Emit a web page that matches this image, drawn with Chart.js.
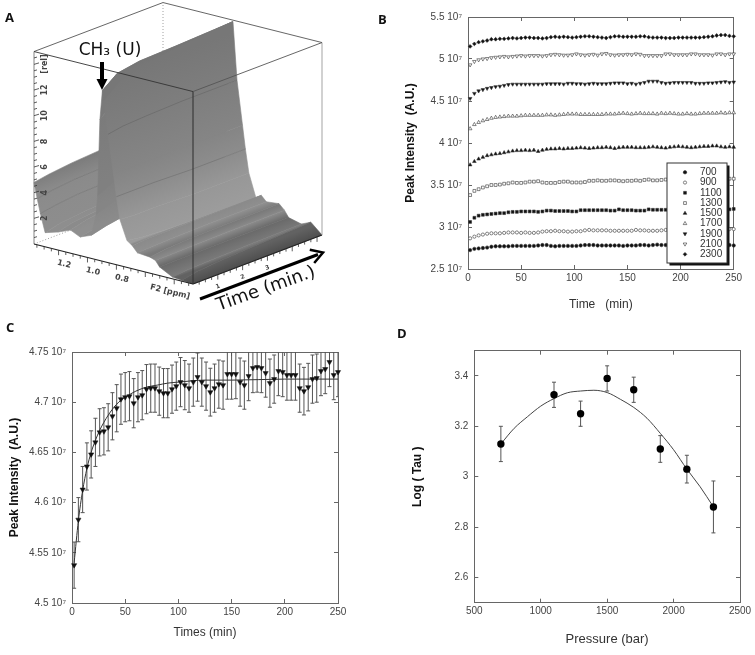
<!DOCTYPE html>
<html>
<head>
<meta charset="utf-8">
<title>Peak intensity under pressure</title>
<script src="https://cdn.jsdelivr.net/npm/chart.js@4/dist/chart.umd.min.js"></script>
<style>
  html, body { margin: 0; padding: 0; background: #fff; }
  #page { position: relative; width: 755px; height: 655px; overflow: hidden; }
  canvas { position: absolute; filter: blur(0.35px); }
  .letter { position: absolute; font: bold 13px/14px "Open Sans", sans-serif; color: #111; }
</style>
</head>
<body>
<div id="page">
  <canvas id="panelA" width="375" height="310" style="left:0;top:0"></canvas>
  <canvas id="panelB" width="380" height="325" style="left:375px;top:0"></canvas>
  <canvas id="panelC" width="375" height="335" style="left:0;top:320px"></canvas>
  <canvas id="panelD" width="355" height="335" style="left:400px;top:320px"></canvas>
  <div class="letter" style="left:5px;top:10px">A</div>
  <div class="letter" style="left:378px;top:12px">B</div>
  <div class="letter" style="left:6px;top:320px">C</div>
  <div class="letter" style="left:397px;top:326px">D</div>
</div>
<script>
// Panel A: surface, rel intensity for each F2 position (columns) at each time (rows)
const ppmA = [1.37,1.348,1.326,1.293,1.205,1.117,1.051,0.974,0.941,0.93,0.914,0.897,0.886,0.858,0.82,0.80,0.776,0.727,0.69,0.655,0.567,0.53,0.501,0.413,0.347,0.27];
const timesA = [0, 0.6, 1.5, 3, 5.2];
const relT0 = [4.8,3.6,2.5,1.1,1.4,1.8,1.45,1.8,3.5,5.0,11,13.3,12.5,10,7,5.3,3.6,2.1,1.8,1.34,1.25,1.1,0.67,0.15,0.08,0];
const relT1 = [5.0,3.8,2.7,1.4,1.7,2.1,1.7,2.1,3.9,5.5,12,14.2,13.5,10.2,7,5.3,3.5,1.9,1.9,1.4,1.4,1.1,0.7,0.25,0.3,0];
const relT2 = [5.2,4.0,2.9,1.6,1.9,2.4,2.0,2.4,4.2,6,12.2,14.5,14.1,10.3,7,5.3,3.5,1.8,1.9,1.45,1.5,1.15,0.7,0.3,0.45,0];
const relT3 = [5.4,4.1,3.0,1.8,2.2,2.6,2.2,2.6,4.4,6.2,12.3,14.6,14.5,10.4,7,5.2,3.4,1.7,1.9,1.5,1.55,1.2,0.7,0.4,0.6,0];
const relT4 = [5.6,4.3,3.2,2.0,2.4,2.8,2.4,2.8,4.6,6.5,12.5,14.8,14.9,10.4,7,5.2,3.4,1.6,1.9,1.5,1.6,1.2,0.7,0.45,0.78,0];
const relRows = [relT0, relT1, relT2, relT3, relT4];
const streakColumns = [1, 2, 13, 15];
const relTicks = [2, 4, 6, 8, 10, 12];
const f2Ticks = [1.2, 1.0, 0.8];
const timeTicksA = [1, 2, 3];

// Panel B: peak intensity (x 10^7) against time, one list per pressure
const timesB = [2,6,10,14,18,22,26,30,34,38,42,46,50,54,58,62,66,70,74,78,82,86,90,94,98,102,106,110,114,118,122,126,130,134,138,142,146,150,154,158,162,166,170,174,178,182,186,190,194,198,202,206,210,214,218,222,226,230,234,238,242,246,250];
const p700 = [2.725,2.74,2.745,2.75,2.755,2.765,2.77,2.77,2.77,2.77,
  2.775,2.775,2.775,2.775,2.775,2.775,2.78,2.785,2.785,2.775,
  2.77,2.775,2.775,2.775,2.775,2.775,2.78,2.785,2.785,2.785,
  2.78,2.78,2.78,2.78,2.78,2.78,2.775,2.78,2.78,2.78,
  2.785,2.785,2.78,2.785,2.79,2.785,2.785,2.785,2.785,2.785,
  2.785,2.785,2.79,2.785,2.785,2.785,2.785,2.785,2.79,2.79,
  2.79,2.785,2.78];
const p900 = [2.865,2.885,2.90,2.91,2.92,2.925,2.925,2.925,2.93,2.935,
  2.935,2.935,2.93,2.935,2.93,2.93,2.935,2.945,2.95,2.95,
  2.955,2.95,2.95,2.945,2.945,2.95,2.95,2.96,2.965,2.96,
  2.96,2.96,2.96,2.955,2.955,2.955,2.955,2.955,2.955,2.965,
  2.96,2.96,2.955,2.955,2.955,2.96,2.965,2.965,2.965,2.965,
  2.97,2.97,2.965,2.965,2.97,2.97,2.97,2.975,2.975,2.97,
  2.97,2.975,2.975];
const p1100 = [3.06,3.11,3.135,3.145,3.15,3.155,3.16,3.165,3.165,3.175,
  3.18,3.18,3.185,3.185,3.185,3.185,3.18,3.185,3.195,3.195,
  3.19,3.19,3.19,3.19,3.185,3.185,3.20,3.20,3.20,3.20,
  3.20,3.20,3.20,3.195,3.195,3.21,3.20,3.20,3.20,3.195,
  3.195,3.195,3.21,3.205,3.205,3.205,3.205,3.205,3.205,3.205,
  3.205,3.21,3.205,3.2,3.205,3.205,3.21,3.205,3.205,3.205,
  3.21,3.21,3.215];
const p1300 = [3.38,3.43,3.45,3.47,3.485,3.50,3.50,3.505,3.515,3.52,
  3.53,3.525,3.525,3.53,3.54,3.54,3.545,3.53,3.525,3.525,
  3.525,3.535,3.54,3.54,3.53,3.53,3.53,3.535,3.55,3.55,
  3.555,3.55,3.55,3.555,3.555,3.55,3.545,3.55,3.55,3.555,
  3.55,3.56,3.565,3.555,3.555,3.56,3.565,3.565,3.55,3.55,
  3.55,3.555,3.56,3.56,3.555,3.56,3.55,3.56,3.56,3.565,
  3.57,3.575,3.575];
const p1500 = [3.74,3.78,3.81,3.83,3.85,3.86,3.87,3.875,3.885,3.895,
  3.905,3.91,3.91,3.915,3.91,3.915,3.90,3.915,3.925,3.93,
  3.93,3.935,3.93,3.935,3.935,3.94,3.945,3.94,3.935,3.94,
  3.945,3.945,3.95,3.945,3.935,3.945,3.95,3.95,3.95,3.945,
  3.945,3.945,3.95,3.955,3.95,3.945,3.94,3.95,3.955,3.96,
  3.955,3.95,3.945,3.95,3.955,3.96,3.96,3.965,3.965,3.955,
  3.95,3.955,3.95];
const p1700 = [4.17,4.22,4.245,4.265,4.28,4.295,4.305,4.31,4.315,4.32,
  4.32,4.32,4.325,4.33,4.33,4.33,4.33,4.33,4.335,4.335,
  4.33,4.335,4.34,4.345,4.345,4.345,4.34,4.34,4.34,4.34,
  4.34,4.34,4.345,4.345,4.345,4.35,4.355,4.35,4.345,4.35,
  4.355,4.35,4.35,4.35,4.345,4.355,4.35,4.355,4.35,4.345,
  4.345,4.35,4.345,4.345,4.35,4.355,4.355,4.355,4.355,4.36,
  4.355,4.36,4.36];
const p1900 = [4.53,4.59,4.62,4.635,4.65,4.66,4.67,4.675,4.685,4.695,
  4.70,4.70,4.70,4.70,4.70,4.70,4.70,4.70,4.705,4.705,
  4.705,4.705,4.70,4.71,4.71,4.705,4.705,4.70,4.705,4.71,
  4.705,4.705,4.705,4.71,4.715,4.715,4.715,4.705,4.71,4.70,
  4.71,4.72,4.735,4.735,4.735,4.72,4.71,4.715,4.72,4.72,
  4.72,4.72,4.72,4.71,4.71,4.71,4.715,4.715,4.72,4.725,
  4.73,4.72,4.725];
const p2100 = [4.93,4.97,4.99,5.00,5.005,5.015,5.02,5.025,5.03,5.025,
  5.03,5.035,5.04,5.035,5.04,5.04,5.04,5.035,5.04,5.05,
  5.055,5.05,5.045,5.045,5.05,5.06,5.05,5.045,5.05,5.055,
  5.045,5.06,5.065,5.05,5.045,5.05,5.05,5.055,5.05,5.06,
  5.055,5.04,5.04,5.04,5.04,5.04,5.06,5.06,5.05,5.05,
  5.05,5.05,5.06,5.06,5.05,5.05,5.05,5.045,5.06,5.06,
  5.05,5.06,5.06];
const p2300 = [5.15,5.18,5.20,5.21,5.22,5.235,5.235,5.24,5.24,5.245,
  5.25,5.245,5.25,5.255,5.255,5.25,5.25,5.245,5.25,5.26,
  5.265,5.26,5.265,5.26,5.255,5.26,5.265,5.27,5.27,5.265,
  5.26,5.255,5.25,5.26,5.27,5.27,5.265,5.265,5.265,5.265,
  5.27,5.27,5.26,5.255,5.255,5.255,5.25,5.25,5.25,5.255,
  5.255,5.255,5.255,5.255,5.255,5.26,5.265,5.27,5.28,5.285,
  5.285,5.275,5.27];
const pressureLabels = ['700','900','1100','1300','1500','1700','1900','2100','2300'];

// Panel C: one pressure with its error bars and fit (x 10^7)
const peakC = [4.5377,4.583,4.613,4.636,4.648,4.66,4.67,4.671,4.675,4.686,
  4.694,4.703,4.705,4.706,4.699,4.705,4.707,4.713,4.714,4.714,
  4.711,4.709,4.709,4.713,4.716,4.72,4.717,4.714,4.72,4.725,
  4.72,4.716,4.71,4.714,4.718,4.717,4.728,4.728,4.728,4.72,
  4.717,4.726,4.734,4.735,4.734,4.729,4.719,4.723,4.731,4.73,
  4.727,4.727,4.727,4.714,4.711,4.715,4.723,4.724,4.731,4.733,
  4.74,4.727,4.73];
const errC = [0.023,0.022,0.023,0.0235,0.0235,0.024,0.0235,0.0235,0.0235,0.0235,
  0.0235,0.025,0.0245,0.0245,0.0245,0.0245,0.0245,0.0245,0.024,0.024,
  0.024,0.0245,0.0245,0.024,0.024,0.0245,0.0245,0.024,0.024,0.024,
  0.024,0.024,0.0238,0.024,0.024,0.024,0.025,0.025,0.0245,0.024,
  0.024,0.0245,0.0245,0.025,0.0245,0.024,0.024,0.024,0.0245,0.0245,
  0.025,0.025,0.025,0.024,0.0237,0.0237,0.024,0.024,0.0245,0.0245,
  0.0245,0.0245,0.0245];
const fitTimesC = [2,6,10,14,18,22,26,30,34,38,42,46,50,60,70,80,90,100,125,150,200,250];
const fitC = [4.54,4.582,4.612,4.634,4.65,4.662,4.672,4.68,4.687,4.693,4.698,4.702,4.705,4.711,4.715,4.717,4.719,4.72,4.722,4.722,4.723,4.723];

// Panel D: Log(Tau) against pressure
const pressuresD = [700,1100,1300,1500,1700,1900,2100,2300];
const logTau = [3.13,3.325,3.25,3.39,3.345,3.11,3.03,2.88];
const errTau = [0.07,0.05,0.05,0.05,0.05,0.053,0.055,0.103];
const fitPressures = [700,800,900,1000,1100,1200,1300,1400,1500,1600,1700,1800,1900,2000,2100,2200,2300];
const fitTau = [3.13,3.192,3.238,3.28,3.31,3.333,3.34,3.343,3.334,3.307,3.275,3.232,3.172,3.107,3.03,2.96,2.88];
const tauTicks = [2.6,2.8,3,3.2,3.4];

const INK = '#444';
const SANS = '"Liberation Sans", Arial, sans-serif';

// axis box of panel A, in canvas pixels
const cornerLeft = { x: 34, y: 244 };
const cornerFrontDx = 159, cornerFrontDy = 40;
const cornerRightDx = 129, cornerRightDy = -49;
const relPx = 12.83;
const ppmStart = 1.37, ppmEnd = 0.27, timeEnd = 5.2, relEnd = 15;

const shadeA = ['#7c7c7c','#8a8a8a','#8c8c8c','#8d8d8d','#8e8e8e','#8b8b8b','#8f8f8f','#8b8b8b','#858585','#808080','#7a7a7a','#757575','#777777','#7e7e7e','#858585','#8c8c8c','#979797','#9c9c9c','#8a8a8a','#8f8f8f','#7a7a7a','#8a8a8a','#6a6a6a','#7a7a7a','#626262','#4e4e4e'];

function project(ppm, t, rel) {
    const u = (ppmStart - ppm) / (ppmStart - ppmEnd);
    const v = t / timeEnd;
    return {
        x: cornerLeft.x + u * cornerFrontDx + v * cornerRightDx,
        y: cornerLeft.y + u * cornerFrontDy + v * cornerRightDy - rel * relPx
    };
}

function columnEdge(i) {
    return timesA.map((t, r) => project(ppmA[i], t, relRows[r][i]));
}

function buildStrip(ctx, i) {
    const near = columnEdge(i);
    const far = columnEdge(i + 1);
    const pts = near.concat(far.slice().reverse());
    pts.push(pts[0]);

    // shade runs across the strip, so bands follow the time direction
    const a = near[2], b = far[2];
    const nx = 49 / 138, ny = 129 / 138;
    const d = (b.x - a.x) * nx + (b.y - a.y) * ny;
    const grad = ctx.createLinearGradient(a.x, a.y, a.x + nx * d, a.y + ny * d);
    grad.addColorStop(0, shadeA[i]);
    grad.addColorStop(1, shadeA[i + 1]);
    return { type: 'scatter', data: pts, showLine: true, pointRadius: 0, fill: 'shape',
        backgroundColor: grad, borderColor: grad, borderWidth: 0.6 };
}

function buildStreak(i) {
    return { type: 'scatter', data: columnEdge(i), showLine: true, pointRadius: 0,
        borderColor: 'rgba(60,60,60,0.22)', borderWidth: 1, fill: false };
}

function boxEdge(from, to, color, width, dash) {
    return { type: 'scatter', data: [project(...from), project(...to)], showLine: true, pointRadius: 0,
        borderColor: color, borderWidth: width, borderDash: dash || [], fill: false };
}

function drawLabel(ctx, text, x, y, angle, font, color) {
    ctx.save();
    ctx.translate(x, y);
    ctx.rotate(angle * Math.PI / 180);
    ctx.font = font;
    ctx.fillStyle = color;
    ctx.textAlign = 'center';
    ctx.textBaseline = 'middle';
    ctx.fillText(text, 0, 0);
    ctx.restore();
}

// ticks, rotated labels and the two arrows of panel A
const surfaceDecor = {
    id: 'surfaceDecor',
    afterDatasetsDraw(chart) {
        const ctx = chart.ctx;
        const small = 'bold 8px "DejaVu Sans", sans-serif';
        ctx.save();
        ctx.strokeStyle = '#333';
        ctx.lineWidth = 0.8;
        for (let i = 1; i < 30; i++) {
            const p = project(ppmStart, 0, i / 2);
            const len = i % 4 === 0 ? 5 : 3;
            ctx.beginPath(); ctx.moveTo(p.x, p.y); ctx.lineTo(p.x + len, p.y - len * 0.3); ctx.stroke();
        }
        for (let ppm = 1.35; ppm > 0.28; ppm -= 0.05) {
            const p = project(ppm, 0, 0);
            const len = Math.abs(ppm * 5 - Math.round(ppm * 5)) < 0.01 ? 5 : 3;
            ctx.beginPath(); ctx.moveTo(p.x, p.y); ctx.lineTo(p.x, p.y + len); ctx.stroke();
        }
        for (let t = 0.25; t < timeEnd; t += 0.25) {
            const p = project(ppmEnd, t, 0);
            const len = Number.isInteger(t) ? 5 : 3;
            ctx.beginPath(); ctx.moveTo(p.x, p.y); ctx.lineTo(p.x, p.y + len); ctx.stroke();
        }
        ctx.restore();

        relTicks.forEach(v => {
            const p = project(ppmStart, 0, v);
            drawLabel(ctx, String(v), p.x + 11, p.y, -90, small, '#444');
        });
        drawLabel(ctx, '[rel]', 45, 64, -90, small, '#444');
        f2Ticks.forEach(v => {
            const p = project(v, 0, 0);
            drawLabel(ctx, v.toFixed(1), p.x + 5.5, p.y + 14, 14, small, '#444');
        });
        drawLabel(ctx, 'F2 [ppm]', 170, 292, 14, small, '#444');
        timeTicksA.forEach(v => {
            const p = project(ppmEnd, v, 0);
            drawLabel(ctx, String(v), p.x, p.y + 12, -20, 'bold 6px "DejaVu Sans", sans-serif', '#444');
        });

        drawLabel(ctx, 'CH\u2083 (U)', 110, 51, 0, '17px "DejaVu Sans", sans-serif', '#111');
        drawLabel(ctx, 'Time (min.)', 266, 289, -19.6, '18px "DejaVu Sans", sans-serif', '#111');

        ctx.save();
        ctx.fillStyle = '#000';
        ctx.strokeStyle = '#000';
        ctx.lineWidth = 4;
        ctx.beginPath(); ctx.moveTo(102, 62); ctx.lineTo(102, 80); ctx.stroke();
        ctx.beginPath(); ctx.moveTo(96.5, 79); ctx.lineTo(107.5, 79); ctx.lineTo(102, 90); ctx.closePath(); ctx.fill();
        ctx.lineWidth = 3;
        ctx.beginPath(); ctx.moveTo(200, 299); ctx.lineTo(318, 254.5); ctx.stroke();
        ctx.lineWidth = 2.5;
        ctx.lineCap = 'square';
        ctx.beginPath(); ctx.moveTo(311, 250); ctx.lineTo(323, 252.5); ctx.lineTo(315, 262); ctx.stroke();
        ctx.restore();
    }
};

// error bars, read from the dataset's own errors list
const errorBars = {
    id: 'errorBars',
    beforeDatasetsDraw(chart) {
        const { ctx, chartArea, scales } = chart;
        ctx.save();
        ctx.beginPath();
        ctx.rect(chartArea.left, chartArea.top, chartArea.width, chartArea.height);
        ctx.clip();
        ctx.strokeStyle = '#555';
        ctx.lineWidth = 1;
        chart.data.datasets.forEach(ds => {
            if (!ds.errors) return;
            ds.data.forEach((pt, i) => {
                const x = scales.x.getPixelForValue(pt.x);
                const y0 = scales.y.getPixelForValue(pt.y - ds.errors[i]);
                const y1 = scales.y.getPixelForValue(pt.y + ds.errors[i]);
                ctx.beginPath();
                ctx.moveTo(x, y0); ctx.lineTo(x, y1);
                ctx.moveTo(x - 2, y0); ctx.lineTo(x + 2, y0);
                ctx.moveTo(x - 2, y1); ctx.lineTo(x + 2, y1);
                ctx.stroke();
            });
        });
        ctx.restore();
    }
};

// boxed key of panel B, sits on top of the points like the original
const pressureKey = {
    id: 'pressureKey',
    afterDatasetsDraw(chart) {
        const ctx = chart.ctx;
        const left = 292, top = 163, w = 60, h = 100;
        ctx.save();
        ctx.fillStyle = '#111';
        ctx.fillRect(left + 2.5, top + 2.5, w, h);
        ctx.fillStyle = '#fff';
        ctx.strokeStyle = '#333';
        ctx.lineWidth = 1;
        ctx.fillRect(left, top, w, h);
        ctx.strokeRect(left, top, w, h);
        ctx.font = '10px ' + SANS;
        ctx.textBaseline = 'middle';
        chart.data.datasets.forEach((ds, i) => {
            const y = top + 9.3 + i * 10.25;
            ctx.fillStyle = ds.backgroundColor;
            ctx.strokeStyle = ds.borderColor;
            ctx.lineWidth = ds.borderWidth;
            Chart.helpers.drawPoint(ctx, { pointStyle: ds.pointStyle, rotation: ds.pointRotation || 0,
                radius: ds.pointRadius, borderWidth: ds.borderWidth }, left + 18, y);
            ctx.fillStyle = '#333';
            ctx.fillText(ds.label, left + 33, y);
        });
        ctx.restore();
    }
};

function frameScales(o) {
    const gridOpts = { drawOnChartArea: false, tickLength: -4, tickColor: '#666', tickWidth: 1 };
    const border = { color: '#666', width: 1 };
    const tickFont = { family: SANS, size: 10 };
    const fixedY = s => { if (o.yTicks) s.ticks = o.yTicks.map(value => ({ value })); };
    return {
        x: {
            type: 'linear', min: o.xMin, max: o.xMax, position: 'bottom',
            grid: gridOpts, border,
            ticks: { stepSize: o.xStep, color: INK, font: tickFont, padding: 7, maxRotation: 0, autoSkip: false,
                callback: v => String(v) },
            title: { display: true, text: o.xTitle, color: '#333', font: { family: SANS, size: o.xTitleSize || 12 },
                padding: { top: 0, bottom: o.xTitlePad } },
            afterFit: s => { s.height = o.axisH; s.paddingRight = 0; }
        },
        y: {
            type: 'linear', min: o.yMin, max: o.yMax, position: 'left',
            grid: gridOpts, border,
            ticks: { stepSize: o.yStep, color: INK, font: tickFont, padding: 10, autoSkip: false, callback: o.yFormat },
            title: { display: true, text: o.yTitle, color: '#111', font: { family: SANS, size: 12, weight: 'bold' },
                padding: { top: o.yTitlePad, bottom: 0 } },
            afterBuildTicks: fixedY,
            afterFit: s => { s.width = o.axisW; }
        },
        xTop: {
            type: 'linear', min: o.xMin, max: o.xMax, position: 'top',
            grid: gridOpts, border,
            ticks: { stepSize: o.xStep, display: false, autoSkip: false },
            afterFit: s => { s.height = 0; }
        },
        yRight: {
            type: 'linear', min: o.yMin, max: o.yMax, position: 'right',
            grid: gridOpts, border,
            ticks: { stepSize: o.yStep, display: false, autoSkip: false },
            afterBuildTicks: fixedY,
            afterFit: s => { s.width = 0; }
        }
    };
}

function baseOptions(scales, pad) {
    return {
        responsive: false,
        animation: false,
        devicePixelRatio: 1,
        layout: { padding: pad },
        plugins: { legend: { display: false }, tooltip: { enabled: false } },
        scales
    };
}

const pairs = (xs, ys) => xs.map((x, i) => ({ x, y: ys[i] }));
const powerLabel = v => `${+v.toFixed(2)} 10\u2077`;

function createPanelA() {
    const canvas = document.getElementById('panelA');
    const ctx = canvas.getContext('2d');
    const strips = [];
    for (let i = ppmA.length - 2; i >= 0; i--) {
        if (streakColumns.includes(i)) strips.push(buildStreak(i));
        strips.push(buildStrip(ctx, i));
    }

    const edges = [
        boxEdge([ppmStart, 0, relEnd], [ppmEnd, 0, relEnd], '#333', 0.9),
        boxEdge([ppmEnd, 0, relEnd], [ppmEnd, timeEnd, relEnd], '#555', 0.9),
        boxEdge([ppmEnd, timeEnd, relEnd], [ppmStart, timeEnd, relEnd], '#555', 0.9),
        boxEdge([ppmStart, timeEnd, relEnd], [ppmStart, 0, relEnd], '#555', 0.9),
        boxEdge([ppmEnd, 0, 0], [ppmEnd, 0, relEnd], 'rgba(50,50,50,0.75)', 1.4),
        boxEdge([ppmStart, 0, 0], [ppmStart, 0, relEnd], '#777', 0.9),
        boxEdge([ppmEnd, timeEnd, 0], [ppmEnd, timeEnd, relEnd], '#999', 0.9),
        boxEdge([ppmStart, 0, 0], [ppmEnd, 0, 0], '#222', 1.1),
        boxEdge([ppmEnd, 0, 0], [ppmEnd, timeEnd, 0], '#222', 1.1)
    ];
    const hidden = [
        boxEdge([ppmStart, timeEnd, 0], [ppmStart, timeEnd, relEnd], '#888', 0.8, [1, 2]),
        boxEdge([ppmStart, 0, 0], [ppmStart, timeEnd, 0], '#888', 0.8, [1, 2])
    ];

    new Chart(ctx, {
        type: 'scatter',
        data: { datasets: edges.concat(strips, hidden) },
        options: baseOptions({
            x: { type: 'linear', min: 0, max: 375, display: false },
            y: { type: 'linear', min: 0, max: 310, reverse: true, display: false }
        }, 0),
        plugins: [surfaceDecor]
    });
}

function createPanelB() {
    const series = [p700, p900, p1100, p1300, p1500, p1700, p1900, p2100, p2300];
    const looks = [
        { pointStyle: 'circle', pointRadius: 1.7, backgroundColor: '#111' },
        { pointStyle: 'circle', pointRadius: 1.6, backgroundColor: '#fff' },
        { pointStyle: 'rect', pointRadius: 2, backgroundColor: '#111' },
        { pointStyle: 'rect', pointRadius: 2, backgroundColor: '#fff' },
        { pointStyle: 'triangle', pointRadius: 2.1, backgroundColor: '#111' },
        { pointStyle: 'triangle', pointRadius: 2.1, backgroundColor: '#fff' },
        { pointStyle: 'triangle', pointRadius: 2.1, pointRotation: 180, backgroundColor: '#111' },
        { pointStyle: 'triangle', pointRadius: 2.1, pointRotation: 180, backgroundColor: '#fff' },
        { pointStyle: 'rectRot', pointRadius: 1.9, backgroundColor: '#111' }
    ];
    const datasets = series.map((ys, i) => Object.assign({
        label: pressureLabels[i],
        data: pairs(timesB, ys),
        showLine: false,
        borderColor: '#333',
        borderWidth: 0.6,
        clip: false
    }, looks[i]));

    new Chart(document.getElementById('panelB').getContext('2d'), {
        type: 'scatter',
        data: { datasets },
        options: baseOptions(frameScales({
            xMin: 0, xMax: 250, xStep: 50, yMin: 2.5, yMax: 5.5, yStep: 0.5,
            xTitle: 'Time   (min)', yTitle: 'Peak Intensity  (A.U.)', yFormat: powerLabel,
            axisH: 56, axisW: 93, xTitlePad: 13, yTitlePad: 28
        }), { top: 17, right: 21.3, bottom: 0, left: 0 }),
        plugins: [pressureKey]
    });
}

function createPanelC() {
    new Chart(document.getElementById('panelC').getContext('2d'), {
        type: 'scatter',
        data: { datasets: [
            { label: 'peak', data: pairs(timesB, peakC), errors: errC, showLine: false,
              pointStyle: 'triangle', pointRotation: 180, pointRadius: 3,
              backgroundColor: '#111', borderColor: '#111', borderWidth: 0.5, clip: false },
            { label: 'fit', data: pairs(fitTimesC, fitC), showLine: true, pointRadius: 0,
              borderColor: '#333', borderWidth: 1, cubicInterpolationMode: 'monotone' }
        ] },
        options: baseOptions(frameScales({
            xMin: 0, xMax: 250, xStep: 50, yMin: 4.5, yMax: 4.75, yStep: 0.05,
            xTitle: 'Times (min)', yTitle: 'Peak Intensity  (A.U.)', yFormat: powerLabel,
            axisH: 52, axisW: 72, xTitlePad: 15, yTitlePad: 7
        }), { top: 32, right: 37, bottom: 0, left: 0 }),
        plugins: [errorBars]
    });
}

function createPanelD() {
    new Chart(document.getElementById('panelD').getContext('2d'), {
        type: 'scatter',
        data: { datasets: [
            { label: 'Log(Tau)', data: pairs(pressuresD, logTau), errors: errTau, showLine: false,
              pointStyle: 'circle', pointRadius: 3.7, backgroundColor: '#000', borderColor: '#000', borderWidth: 0 },
            { label: 'fit', data: pairs(fitPressures, fitTau), showLine: true, pointRadius: 0,
              borderColor: '#444', borderWidth: 1, cubicInterpolationMode: 'monotone' }
        ] },
        options: baseOptions(frameScales({
            xMin: 500, xMax: 2500, xStep: 500, yMin: 2.5, yMax: 3.5, yStep: 0.2, yTicks: tauTicks,
            xTitle: 'Pressure (bar)', xTitleSize: 13, yTitle: 'Log ( Tau )',
            yFormat: v => String(+v.toFixed(1)),
            axisH: 52.3, axisW: 74.3, xTitlePad: 8, yTitlePad: 10
        }), { top: 30.7, right: 15, bottom: 0, left: 0 }),
        plugins: [errorBars]
    });
}

createPanelA();
createPanelB();
createPanelC();
createPanelD();
</script>
</body>
</html>
